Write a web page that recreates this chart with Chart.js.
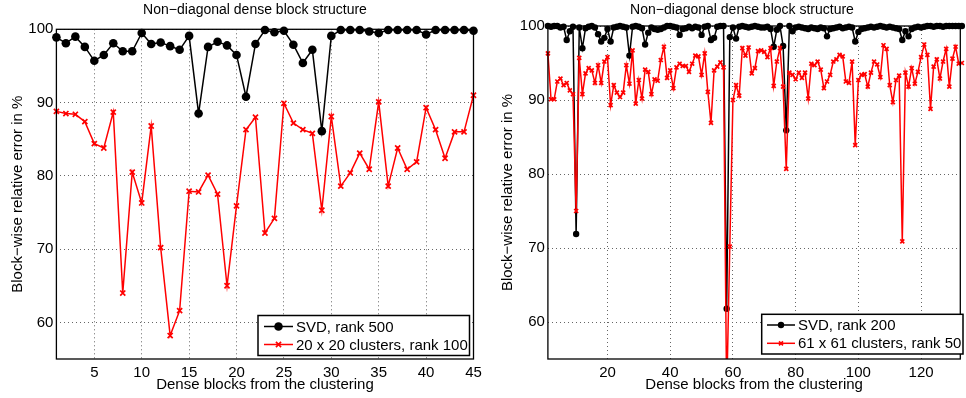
<!DOCTYPE html>
<html>
<head>
<meta charset="utf-8">
<script src="https://cdn.jsdelivr.net/npm/chart.js@4"></script>
<style>
  html, body { margin: 0; padding: 0; background: #fff; }
  #wrap { position: relative; width: 966px; height: 398px; overflow: hidden; }
  canvas { position: absolute; top: 0; }
  #chart-left { left: 0; }
  #chart-right { left: 490px; }
</style>
</head>
<body>
<div id="wrap">
  <canvas id="chart-left" width="490" height="398"></canvas>
  <canvas id="chart-right" width="476" height="398"></canvas>
</div>
<script>
// left panel: 45 dense blocks
const svdLeft = [98.9, 98.1, 99.0, 97.6, 95.7, 96.5, 98.1, 97.0, 97.0, 99.5,
  98.0, 98.2, 97.7, 97.2, 99.1, 88.5, 97.6, 98.3, 97.8, 96.5,
  90.8, 98.0, 99.9, 99.6, 99.8, 97.9, 95.4, 97.2, 86.1, 99.1,
  99.9, 99.9, 99.9, 99.7, 99.5, 99.9, 99.9, 99.9, 99.9, 99.3,
  99.9, 99.9, 99.9, 99.9, 99.8];
const clusterLeft = [88.8, 88.5, 88.4, 87.4, 84.4, 83.8, 88.7, 64.0, 80.5, 76.3,
  86.8, 70.2, 58.2, 61.6, 77.9, 77.8, 80.1, 77.5, 65.0, 75.9,
  86.3, 88.0, 72.2, 74.2, 89.9, 87.2, 86.3, 85.8, 75.3, 88.1,
  78.6, 80.4, 83.1, 80.9, 90.1, 78.6, 83.8, 80.9, 81.9, 89.3,
  86.3, 82.4, 86.0, 86.0, 91.0];
const ticksLeftX = [5, 10, 15, 20, 25, 30, 35, 40, 45];

// right panel: 133 dense blocks
const svdRight = [100, 99.9, 100, 100, 99.8, 99.9, 98.1, 99.3, 99.9, 71.9,
  99.8, 97.0, 99.7, 99.9, 100, 99.8, 98.9, 97.9, 98.4, 99.6,
  97.9, 99.8, 99.9, 100, 99.9, 99.8, 96.0, 99.9, 100, 99.9,
  99.7, 97.5, 99.1, 99.8, 99.6, 99.5, 99.6, 99.8, 100, 100,
  99.9, 99.8, 98.8, 99.6, 99.7, 99.9, 99.7, 99.9, 99.8, 98.8,
  99.9, 100, 98.1, 98.4, 99.9, 100, 100, 61.8, 98.5, 99.8,
  98.3, 99.9, 100, 99.9, 99.8, 99.9, 100, 99.9, 99.8, 99.8,
  99.9, 99.6, 97.2, 99.5, 100, 97.3, 85.9, 100, 99.3, 99.8,
  99.9, 99.8, 99.7, 99.6, 99.8, 99.7, 99.6, 99.8, 99.7, 98.6,
  99.6, 99.7, 99.8, 99.9, 99.7, 99.8, 99.9, 99.8, 97.9, 99.2,
  99.6, 99.7, 99.8, 99.9, 99.8, 99.9, 100, 99.9, 99.8, 99.9,
  99.8, 99.7, 99.6, 98.1, 99.3, 98.6, 99.6, 99.8, 99.9, 99.8,
  99.9, 100, 100, 99.9, 100, 100, 99.9, 100, 100, 100,
  100, 100, 100];
const clusterRight = [96.3, 90.1, 90.1, 92.5, 92.9, 92.0, 92.3, 91.3, 90.8, 75.0,
  95.7, 90.8, 93.6, 94.3, 94.0, 92.3, 94.7, 92.3, 95.2, 95.8,
  89.3, 92.0, 91.0, 90.4, 91.0, 94.7, 92.2, 96.7, 89.5, 92.7,
  90.2, 94.1, 93.8, 90.8, 92.8, 92.6, 95.4, 97.2, 93.0, 94.0,
  91.6, 94.4, 94.9, 94.6, 94.6, 93.8, 94.9, 96.0, 95.9, 93.4,
  96.3, 91.1, 86.9, 94.0, 94.5, 95.1, 94.4, 50.0, 70.2, 90.0,
  92.0, 90.6, 97.0, 96.0, 97.1, 93.6, 94.3, 96.6, 96.7, 96.5,
  95.8, 97.0, 91.9, 95.2, 97.0, 91.8, 80.7, 93.7, 93.4, 92.8,
  93.7, 93.0, 93.7, 90.2, 94.9, 94.7, 95.2, 94.1, 91.6, 92.5,
  93.4, 95.2, 95.5, 96.1, 95.9, 92.5, 92.3, 95.2, 83.9, 92.7,
  93.4, 93.5, 91.8, 93.7, 95.2, 94.8, 93.1, 97.4, 96.9, 92.0,
  89.7, 92.7, 93.3, 70.9, 93.7, 91.8, 94.3, 92.2, 93.8, 95.8,
  97.5, 96.1, 88.8, 94.5, 95.5, 92.9, 95.2, 96.9, 91.8, 95.6,
  97.2, 94.9, 95.0];
const ticksRightX = [20, 40, 60, 80, 100, 120];
const ticksY = [60, 70, 80, 90, 100];

const FONT = 'Liberation Sans, Arial, Helvetica, sans-serif';
const TITLE = 'Non\u2212diagonal dense block structure';

const toXY = arr => arr.map((v, i) => ({ x: i + 1, y: v }));

// MATLAB style box around the axes, the title and a legend inside the plot
const boxPlugin = {
  id: 'boxPlugin',
  afterDraw(chart, args, o) {
    const ctx = chart.ctx;
    const a = chart.chartArea;
    ctx.save();
    ctx.strokeStyle = '#000';
    ctx.lineWidth = 1.3;
    ctx.strokeRect(a.left, a.top, a.right - a.left, a.bottom - a.top);

    ctx.fillStyle = '#000';
    ctx.font = '14px ' + FONT;
    ctx.textAlign = 'center';
    ctx.textBaseline = 'middle';
    ctx.fillText(TITLE, o.titleX, o.titleY);

    const lg = o.legend;
    ctx.fillStyle = '#fff';
    ctx.fillRect(lg.x, lg.y, lg.w, lg.h);
    ctx.lineWidth = 1.5;
    ctx.strokeRect(lg.x, lg.y, lg.w, lg.h);
    chart.data.datasets.forEach((ds, i) => {
      const cy = lg.rows[i];
      ctx.strokeStyle = ds.borderColor;
      ctx.lineWidth = ds.borderWidth;
      ctx.beginPath();
      ctx.moveTo(lg.x1, cy);
      ctx.lineTo(lg.x2, cy);
      ctx.stroke();
      const mx = (lg.x1 + lg.x2) / 2;
      const r = ds.pointRadius;
      if (ds.pointStyle === 'circle') {
        ctx.fillStyle = ds.pointBackgroundColor;
        ctx.beginPath();
        ctx.arc(mx, cy, r, 0, Math.PI * 2);
        ctx.fill();
      } else {
        const d = r * 0.707;
        ctx.lineWidth = ds.pointBorderWidth;
        ctx.beginPath();
        ctx.moveTo(mx - d, cy - d); ctx.lineTo(mx + d, cy + d);
        ctx.moveTo(mx - d, cy + d); ctx.lineTo(mx + d, cy - d);
        ctx.stroke();
      }
      ctx.fillStyle = '#000';
      ctx.font = '15px ' + FONT;
      ctx.textBaseline = 'middle';
      ctx.textAlign = 'left';
      ctx.fillText(ds.label, lg.tx, cy + 1);
    });
    ctx.restore();
  }
};

function makePanel(canvas, cfg) {
  return new Chart(canvas, {
    type: 'line',
    data: {
      datasets: [
        {
          label: cfg.svdLabel,
          data: toXY(cfg.svd),
          borderColor: '#000',
          borderWidth: 1.5,
          pointStyle: 'circle',
          pointRadius: cfg.dot,
          pointBackgroundColor: '#000',
          pointBorderColor: '#000',
          pointBorderWidth: 0,
          order: 1,
          clip: { left: false, top: false, right: false, bottom: 0 },
        },
        {
          label: cfg.clLabel,
          data: toXY(cfg.cl),
          borderColor: '#ff0000',
          borderWidth: 1.5,
          pointStyle: 'crossRot',
          pointRadius: cfg.cross,
          pointBorderColor: '#ff0000',
          pointBorderWidth: 1.7,
          order: 0,
          clip: { left: false, top: false, right: false, bottom: 0 },
        },
      ],
    },
    plugins: [boxPlugin],
    options: {
      responsive: false,
      animation: false,
      layout: { padding: { left: 0, right: cfg.padRight, top: cfg.padTop, bottom: 0 } },
      plugins: {
        legend: { display: false },
        tooltip: { enabled: false },
        title: { display: false },
        boxPlugin: { legend: cfg.legend, titleX: cfg.titleX, titleY: 10.5 },
      },
      scales: {
        x: {
          type: 'linear',
          min: 1,
          max: cfg.xMax,
          afterBuildTicks: s => { s.ticks = cfg.xTicks.map(v => ({ value: v })); },
          afterFit: s => { s.height = 39; },
          grid: { color: '#666', lineWidth: 1, drawTicks: false },
          border: { display: false, dash: [1, 3] },
          ticks: { color: '#000', padding: 5, font: { family: FONT, size: 15 }, maxRotation: 0 },
          title: {
            display: true,
            text: 'Dense blocks from the clustering',
            color: '#000',
            font: { family: FONT, size: 15 },
            padding: { top: 0, bottom: 4 },
          },
        },
        y: {
          min: 55,
          max: 100,
          afterBuildTicks: s => { s.ticks = ticksY.map(v => ({ value: v })); },
          afterFit: s => { s.width = cfg.yWidth; },
          grid: { color: '#666', lineWidth: 1, drawTicks: false },
          border: { display: false, dash: [1, 3] },
          ticks: { color: '#000', padding: 3, font: { family: FONT, size: 15 } },
          title: {
            display: true,
            text: 'Block\u2212wise relative error in %',
            color: '#000',
            font: { family: FONT, size: 15 },
            padding: { top: 9, bottom: 0 },
          },
        },
      },
    },
  });
}

makePanel(document.getElementById('chart-left'), {
  svd: svdLeft,
  cl: clusterLeft,
  svdLabel: 'SVD, rank 500',
  clLabel: '20 x 20 clusters, rank 100',
  xMax: 45,
  xTicks: ticksLeftX,
  yWidth: 56.4,
  padRight: 16.5,
  padTop: 29.3,
  titleX: 255,
  dot: 4.3,
  cross: 3.6,
  legend: { x: 258, y: 315.5, w: 211.5, h: 40, rows: [326.5, 344.5], x1: 264, x2: 293, tx: 296 },
});

makePanel(document.getElementById('chart-right'), {
  svd: svdRight,
  cl: clusterRight,
  svdLabel: 'SVD, rank 200',
  clLabel: '61 x 61 clusters, rank 50',
  xMax: 132.5,
  xTicks: ticksRightX,
  yWidth: 57.9,
  padRight: 0,
  padTop: 26,
  titleX: 252,
  dot: 3.2,
  cross: 2.8,
  legend: { x: 271.7, y: 314.3, w: 201.3, h: 39.7, rows: [325, 343.3], x1: 277, x2: 305, tx: 308 },
});
</script>
</body>
</html>
